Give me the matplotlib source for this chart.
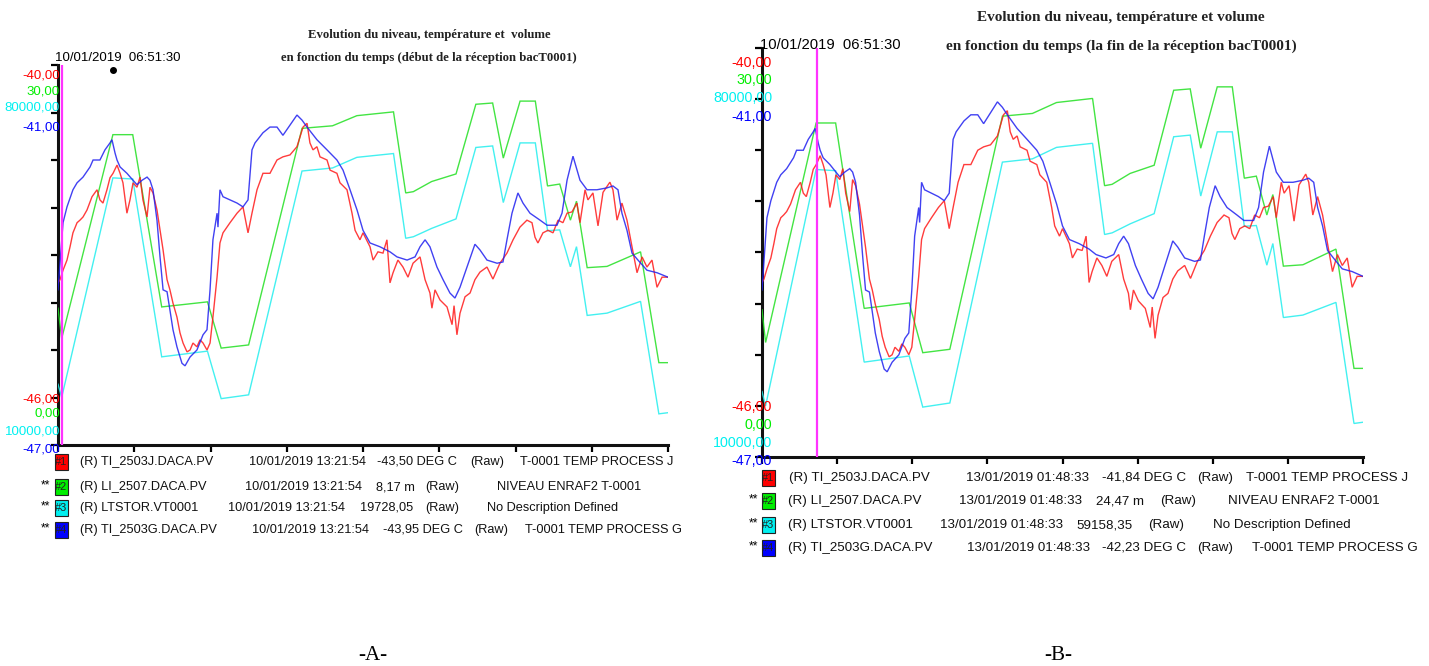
import matplotlib
matplotlib.use("Agg")
import matplotlib.pyplot as plt
from matplotlib.patches import Rectangle

# ---------------------------------------------------------------- data
# time axis: minutes from the left edge of the trend window (8 divisions)
T_WINDOW = 400

# pen #2 : tank level (m), pen #3 : stored volume
TIME_LV = [0, 2.4, 36, 49, 68, 98, 107, 125, 160, 180, 196, 220, 228, 233, 245,
           261, 274, 285, 292, 303, 313, 321, 329, 336, 340, 347, 360, 382, 394, 400]
LEVEL = [10.8, 8.4, 24.5, 24.5, 10.9, 11.3, 7.65, 7.9, 25.0, 25.2, 26.0, 26.3,
         19.9, 20.0, 20.8, 21.4, 26.9, 27.0, 22.65, 27.15, 27.15, 20.45, 20.6,
         17.75, 19.25, 14.0, 14.1, 15.25, 6.5, 6.5]
VOLUME = [21200, 18750, 59210, 59000, 26240, 27290, 18540, 19240, 60470, 61030,
          62990, 63690, 48080, 48360, 49900, 51650, 64810, 65090, 54660, 65650,
          65650, 49480, 49620, 42830, 46540, 33870, 34290, 36460, 15740, 15950]

# pen #1 : process temperature J (deg C)
TIME_J = [0, 1.3, 3.3, 5.9, 7.9, 9.8, 12.5, 14.4, 16.4, 19.0, 22.3, 25.6, 27.5,
          29.5, 32.1, 34.1, 36.1, 38.7, 40.7, 42.6, 45.2, 47.2, 49.2, 51.8, 53.8,
          55.7, 58.4, 60.3, 62.3, 64.9, 66.9, 68.9, 71.5, 73.4, 75.4, 78.0, 80.0,
          82.0, 84.6, 86.6, 88.5, 91.1, 93.1, 95.1, 97.7, 99.7, 101.6, 104.3,
          106.2, 108.2, 112.8, 117.4, 121.3, 124.6, 127.2, 130.5, 134.4, 139.0,
          143.6, 147.5, 152.1, 156.7, 160.7, 163.3, 165.2, 167.2, 169.8, 171.8,
          176.4, 178.4, 182.9, 184.9, 189.5, 192.8, 194.8, 198.0, 200.0, 204.6,
          206.6, 209.8, 213.1, 215.7, 217.7, 219.7, 222.9, 226.2, 229.5, 232.8,
          237.4, 240.7, 243.9, 245.2, 247.2, 250.5, 255.1, 258.4, 259.7, 261.6,
          263.6, 266.9, 270.2, 273.4, 276.7, 281.3, 285.2, 289.8, 294.4, 298.4,
          302.9, 307.5, 310.8, 312.8, 314.7, 318.0, 321.3, 324.6, 327.9, 331.1,
          333.8, 337.0, 340.3, 342.3, 345.6, 347.5, 350.8, 354.1, 357.4, 361.9,
          363.9, 366.6, 369.8, 373.1, 376.4, 379.7, 383.0, 386.2, 389.5, 392.8,
          396.1, 400]
TEMP_J = [-43.44, -43.39, -43.24, -43.08, -42.87, -42.65, -42.49, -42.45, -42.40,
          -42.29, -42.08, -41.97, -42.13, -42.18, -41.97, -41.78, -41.71, -41.58,
          -41.71, -41.86, -42.34, -42.13, -41.86, -41.93, -41.77, -42.13, -42.40,
          -41.93, -42.02, -42.29, -42.61, -42.92, -43.39, -43.55, -43.76, -43.98,
          -44.23, -44.39, -44.53, -44.50, -44.39, -44.45, -44.34, -44.39, -44.50,
          -44.39, -43.98, -43.35, -42.81, -42.65, -42.49, -42.34, -42.24, -42.65,
          -42.34, -41.97, -41.71, -41.71, -41.50, -41.45, -41.42, -41.29, -40.98,
          -40.92, -41.23, -41.34, -41.29, -41.45, -41.50, -41.66, -41.71, -41.86,
          -41.97, -42.34, -42.61, -42.76, -42.65, -42.87, -43.08, -42.95, -42.97,
          -42.76, -43.44, -43.28, -43.08, -43.19, -43.35, -43.13, -43.03, -43.39,
          -43.60, -43.84, -43.55, -43.71, -43.82, -44.10, -43.80, -44.26, -43.92,
          -43.66, -43.60, -43.39, -43.27, -43.19, -43.38, -43.13, -42.97, -42.76,
          -42.56, -42.45, -42.49, -42.72, -42.81, -42.65, -42.61, -42.65, -42.45,
          -42.49, -42.34, -42.32, -42.18, -42.49, -41.97, -42.13, -42.02, -42.54,
          -42.01, -41.85, -41.97, -42.45, -42.18, -42.45, -42.87, -43.28, -43.03,
          -43.19, -43.08, -43.51, -43.35, -43.35]

# pen #4 : process temperature G (deg C)
TIME_G = [0, 3.3, 5.9, 9.8, 12.5, 16.4, 21.0, 23.0, 27.5, 30.8, 34.1, 35.4, 37.4,
          38.7, 40.7, 45.2, 49.2, 51.8, 55.1, 58.4, 60.3, 62.3, 64.9, 66.9, 68.9,
          71.5, 73.4, 75.4, 78.0, 81.3, 83.3, 86.6, 91.1, 95.1, 97.7, 99.7, 101.6,
          104.3, 104.9, 106.2, 108.2, 112.8, 117.4, 121.3, 124.6, 127.2, 129.2,
          134.4, 139.0, 143.6, 147.5, 152.1, 156.7, 160.0, 163.3, 169.8, 176.4,
          182.9, 186.9, 191.5, 196.1, 200.0, 204.6, 211.1, 217.7, 222.3, 228.9,
          234.1, 237.4, 240.7, 243.9, 248.5, 252.5, 257.0, 260.3, 263.6, 268.2,
          273.4, 276.7, 281.3, 287.9, 291.8, 294.4, 297.7, 301.6, 304.9, 309.5,
          316.1, 320.7, 327.2, 330.5, 333.8, 337.7, 342.3, 346.9, 353.4, 360.0,
          363.9, 367.2, 369.8, 373.1, 376.4, 380.3, 386.2, 392.8, 400]
TEMP_G = [-44.55, -43.49, -43.24, -42.97, -42.86, -42.77, -42.61, -42.50, -42.50,
          -42.34, -42.23, -42.18, -42.39, -42.50, -42.61, -42.71, -42.82, -42.89,
          -42.82, -42.77, -42.82, -42.97, -43.45, -44.03, -44.55, -44.58, -44.87,
          -45.18, -45.45, -45.71, -45.75, -45.61, -45.50, -45.26, -45.18, -44.55,
          -43.76, -43.34, -43.56, -42.97, -43.08, -43.13, -43.18, -43.24, -43.13,
          -42.34, -42.23, -42.07, -41.98, -41.98, -42.11, -41.95, -41.79, -41.87,
          -41.98, -42.18, -42.34, -42.50, -42.66, -42.97, -43.29, -43.61, -43.81,
          -43.87, -43.95, -44.03, -44.08, -44.03, -43.87, -43.76, -43.87, -44.19,
          -44.39, -44.60, -44.68, -44.51, -44.19, -43.83, -43.92, -44.08, -44.13,
          -44.11, -43.76, -43.34, -43.02, -43.18, -43.34, -43.45, -43.53, -43.53,
          -43.34, -42.82, -42.44, -42.82, -42.97, -42.97, -42.94, -42.91, -42.97,
          -43.34, -43.61, -43.97, -44.08, -44.24, -44.28, -44.35]

# pen scales (bottom, top) and colours
SCALE_J = (-46.0, -40.0)
SCALE_LV = (0.0, 30.0)
SCALE_VOL = (10000.0, 80000.0)
SCALE_G = (-47.0, -41.0)
SCALE_TOP_LABELS = ["-40,00", "30,00", "80000,00", "-41,00"]
SCALE_BOT_LABELS = ["-46,00", "0,00", "10000,00", "-47,00"]
PEN_COLORS = ["#ff1a1a", "#22e022", "#22eeee", "#2020f0"]
LABEL_COLORS = ["#ff0000", "#00ee00", "#00f0f0", "#0000ff"]

# legend content
TAGS = ["(R) TI_2503J.DACA.PV", "(R) LI_2507.DACA.PV", "(R) LTSTOR.VT0001",
        "(R) TI_2503G.DACA.PV"]
DESCRIPTIONS = ["T-0001 TEMP PROCESS J", "NIVEAU ENRAF2 T-0001",
                "No Description Defined", "T-0001 TEMP PROCESS G"]
STAMP_A = "10/01/2019 13:21:54"
STAMP_B = "13/01/2019 01:48:33"
VALUES_A = ["-43,50 DEG C", "8,17 m", "19728,05", "-43,95 DEG C"]
VALUES_B = ["-41,84 DEG C", "24,47 m", "59158,35", "-42,23 DEG C"]
CURSOR_LABEL = "10/01/2019  06:51:30"
CURSOR_A = 2.6
CURSOR_B = 36.6

TITLE_A = ["Evolution du niveau, température et  volume",
           "en fonction du temps (début de la réception bacT0001)"]
TITLE_B = ["Evolution du niveau, température et volume",
           "en fonction du temps (la fin de la réception bacT0001)"]

# ---------------------------------------------------------------- figure
W, H = 1429, 666
DPI = 100
fig = plt.figure(figsize=(W / DPI, H / DPI), dpi=DPI)
fig.patch.set_facecolor("white")

SANS = ["Liberation Sans", "DejaVu Sans"]
SERIF = ["Liberation Serif", "DejaVu Serif"]


def fx(x):
    return x / W


def fy(y):
    return 1 - y / H


def pt(px):
    return px * 72 / DPI


def panel(box, cursor_t, lab_right, top_ys, bot_ys, lab_px, stamp_xy, stamp_px):
    x0, y0, x1, y1 = box
    base = fig.add_axes([fx(x0), fy(y1), (x1 - x0) / W, (y1 - y0) / H])
    base.set_xlim(0, T_WINDOW)
    base.set_ylim(*SCALE_J)
    base.set_xticks([T_WINDOW * i / 8 for i in range(9)])
    base.set_yticks([SCALE_J[0] + (SCALE_J[1] - SCALE_J[0]) * i / 8 for i in range(9)])
    base.tick_params(labelbottom=False, labelleft=False, direction="out",
                     length=5, width=1.6, color="black")
    for s in ("top", "right"):
        base.spines[s].set_visible(False)
    for s in ("left", "bottom"):
        base.spines[s].set_linewidth(2.2)
        base.spines[s].set_color("#111111")
    base.patch.set_alpha(0)

    series = [(TIME_LV, LEVEL, SCALE_LV, PEN_COLORS[1]),
              (TIME_LV, VOLUME, SCALE_VOL, PEN_COLORS[2]),
              (TIME_J, TEMP_J, SCALE_J, PEN_COLORS[0]),
              (TIME_G, TEMP_G, SCALE_G, PEN_COLORS[3])]
    for t, v, sc, col in series:
        tw = base.twinx()
        tw.set_ylim(*sc)
        tw.set_xlim(0, T_WINDOW)
        tw.axis("off")
        tw.plot(t, v, color=col, lw=1.0, alpha=0.85, solid_joinstyle="miter")
    cur = base.twinx()
    cur.axis("off")
    cur.set_ylim(0, 1)
    cur.axvline(cursor_t, color="#ff33ff", lw=1.6)

    for lab, y, col in zip(SCALE_TOP_LABELS, top_ys, LABEL_COLORS):
        fig.text(fx(lab_right), fy(y), lab, color=col, ha="right", va="center",
                 fontsize=pt(lab_px), family=SANS)
    for lab, y, col in zip(SCALE_BOT_LABELS, bot_ys, LABEL_COLORS):
        fig.text(fx(lab_right), fy(y), lab, color=col, ha="right", va="center",
                 fontsize=pt(lab_px), family=SANS)
    fig.text(fx(stamp_xy[0]), fy(stamp_xy[1]), CURSOR_LABEL, ha="left",
             va="center", fontsize=pt(stamp_px), family=SANS, color="black")


def legend(rows_y, sw_x, star_x, cols_x, stamp, values, font_px):
    for i, y in enumerate(rows_y):
        fig.add_artist(Rectangle((fx(sw_x), fy(y + 8)), 13 / W, 16 / H,
                                 facecolor=LABEL_COLORS[i], edgecolor="#222222",
                                 lw=0.8, transform=fig.transFigure))
        fig.text(fx(sw_x + 6.5), fy(y), "#%d" % (i + 1), ha="center", va="center",
                 fontsize=pt(11), family=SANS, color="#222222")
        if i > 0:
            fig.text(fx(star_x), fy(y - 2), "**", ha="left", va="center",
                     fontsize=pt(12), family=SANS)
        fields = [TAGS[i], stamp, values[i], "(Raw)", DESCRIPTIONS[i]]
        for x, s in zip(cols_x[i], fields):
            fig.text(fx(x), fy(y), s, ha="left", va="center",
                     fontsize=pt(font_px), family=SANS, color="#111111")


# panel A
panel((58, 65, 668, 445), CURSOR_A, 60, [75, 91, 108, 127], [399, 414, 432, 450],
      13.2, (55, 58), 13.2)
fig.add_artist(plt.Line2D([fx(113)], [fy(70)], marker="o", ms=4, color="black",
                          transform=fig.transFigure))
legend([462, 487, 508, 530], 55, 41,
       [[80, 249, 377, 470, 520], [80, 245, 376, 425, 497],
        [80, 228, 360, 425, 487], [80, 252, 383, 474, 525]],
       STAMP_A, VALUES_A, 12.7)
for s, y in zip(TITLE_A, (35, 58)):
    fig.text(fx(429), fy(y), s, ha="center", va="center", family=SERIF,
             weight="bold", fontsize=pt(12.8), color="#222222")

# panel B
panel((762, 48, 1363, 457), CURSOR_B, 772, [63, 80, 98, 117], [407, 425, 443, 461],
      14.3, (760, 45), 14.7)
legend([478, 501, 525, 548], 762, 749,
       [[789, 966, 1102, 1197, 1246], [788, 959, 1096, 1160, 1228],
        [788, 940, 1076, 1148, 1213], [788, 967, 1102, 1197, 1252]],
       STAMP_B, VALUES_B, 13.4)
for s, y in zip(TITLE_B, (17, 46)):
    fig.text(fx(1121), fy(y), s, ha="center", va="center", family=SERIF,
             weight="bold", fontsize=pt(15.2), color="#222222")

fig.text(fx(373), fy(655), "-A-", ha="center", va="center", family=SERIF,
         fontsize=pt(21))
fig.text(fx(1058), fy(655), "-B-", ha="center", va="center", family=SERIF,
         fontsize=pt(21))

fig.savefig("out.png", dpi=DPI, facecolor="white")
